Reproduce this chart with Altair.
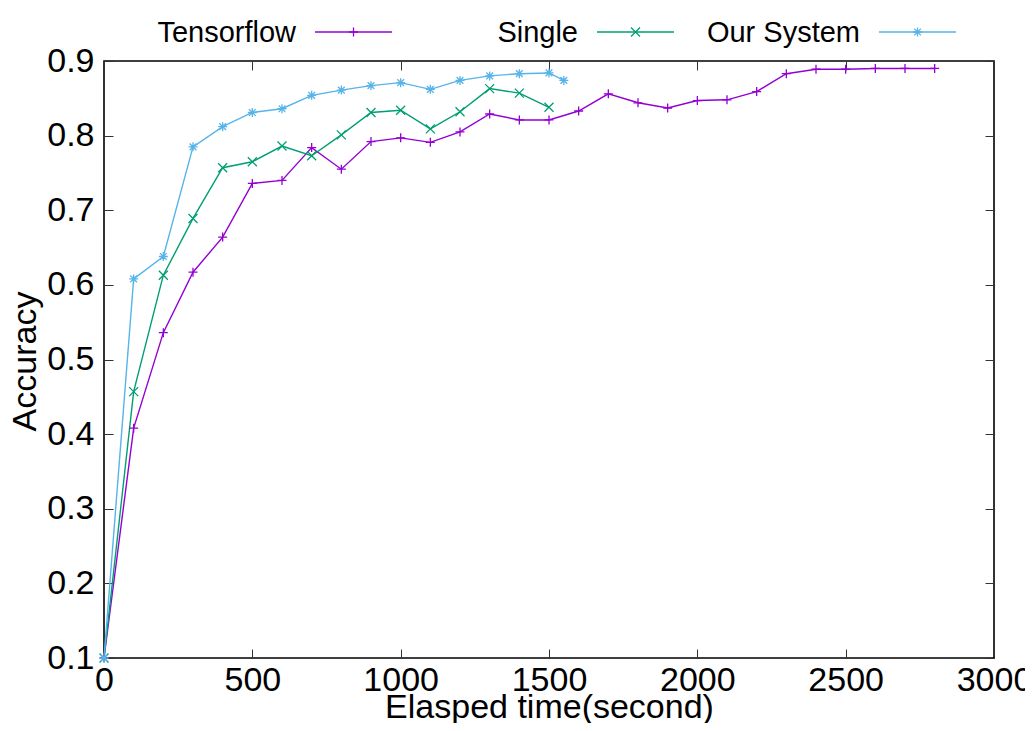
import altair as alt
import pandas as pd

# ---------------- data ----------------
names = ["Tensorflow", "Single", "Our System"]
colors = ["#9400d3", "#009e73", "#56b4e9"]

tf_time = [0, 100, 200, 300, 400, 500, 600, 700, 800, 900, 1000, 1100, 1200, 1300,
           1400, 1500, 1600, 1700, 1800, 1900, 2000, 2100, 2200, 2300, 2400, 2500,
           2600, 2700, 2800]
tf_acc = [0.100, 0.408, 0.536, 0.617, 0.664, 0.736, 0.740, 0.784, 0.755, 0.792,
          0.797, 0.791, 0.805, 0.829, 0.821, 0.821, 0.833, 0.856, 0.844, 0.837,
          0.847, 0.848, 0.859, 0.883, 0.889, 0.889, 0.890, 0.890, 0.890]

single_time = [0, 100, 200, 300, 400, 500, 600, 700, 800, 900, 1000, 1100, 1200,
               1300, 1400, 1500]
single_acc = [0.100, 0.457, 0.613, 0.689, 0.757, 0.765, 0.786, 0.773, 0.801, 0.831,
              0.834, 0.809, 0.832, 0.863, 0.857, 0.838]

ours_time = [0, 100, 200, 300, 400, 500, 600, 700, 800, 900, 1000, 1100, 1200,
             1300, 1400, 1500, 1550]
ours_acc = [0.100, 0.608, 0.638, 0.785, 0.812, 0.831, 0.836, 0.854, 0.861, 0.867,
            0.871, 0.862, 0.874, 0.880, 0.883, 0.884, 0.874]

x_ticks = [0, 500, 1000, 1500, 2000, 2500, 3000]
y_ticks = [0.1, 0.2, 0.3, 0.4, 0.5, 0.6, 0.7, 0.8, 0.9]

# marker shapes: plus, cross, star (gnuplot pt 1, 2, 3)
paths = [
    "M-1,0L1,0M0,-1L0,1",
    "M-1,-1L1,1M-1,1L1,-1",
    "M-1,0L1,0M0,-1L0,1M-0.75,-0.75L0.75,0.75M-0.75,0.75L0.75,-0.75",
]

rows = []
for name, ts, accs in [(names[0], tf_time, tf_acc),
                       (names[1], single_time, single_acc),
                       (names[2], ours_time, ours_acc)]:
    for t, a in zip(ts, accs):
        rows.append({"series": name, "t": t, "acc": a})
df = pd.DataFrame(rows)

# ---------------- layout ----------------
FONT = "Liberation Sans"
W, H = 890, 597
TICK = 9
TICK_COLOR = "#333333"

xs = alt.Scale(domain=[0, 3000], nice=False, zero=False)
ys = alt.Scale(domain=[0.1, 0.9], nice=False, zero=False)
color = alt.Color("series:N", scale=alt.Scale(domain=names, range=colors), legend=None)
shape = alt.Shape("series:N", scale=alt.Scale(domain=names, range=paths), legend=None)


def tick_axis(orient, offset, values):
    return alt.Axis(orient=orient, offset=offset, values=values, labels=False,
                    domain=False, grid=False, ticks=True, tickSize=TICK,
                    tickColor=TICK_COLOR, tickWidth=1, title=None)


base = alt.Chart(df)

lines = base.mark_line(strokeWidth=1.4).encode(
    x=alt.X("t:Q", scale=xs, axis=alt.Axis(
        orient="bottom", values=x_ticks, format="d", ticks=False, domain=False,
        grid=False, labelFont=FONT, labelFontSize=34, labelColor="black",
        labelPadding=5, labelFlush=False, labelOverlap=False,
        title="Elasped time(second)", titleFont=FONT, titleFontSize=34,
        titleFontWeight="normal", titleColor="black", titleY=59,
        titleBaseline="alphabetic")),
    y=alt.Y("acc:Q", scale=ys, axis=alt.Axis(
        orient="left", values=y_ticks, format=".1f", ticks=False, domain=False,
        grid=False, labelFont=FONT, labelFontSize=34, labelColor="black",
        labelPadding=10, labelFlush=False, labelOverlap=False,
        title="Accuracy", titleFont=FONT, titleFontSize=34,
        titleFontWeight="normal", titleColor="black", titleX=-69, titleY=300,
        titleAngle=270, titleAlign="center", titleBaseline="alphabetic")),
    color=color,
)

points = base.mark_point(filled=False, size=81, strokeWidth=1.3, opacity=1).encode(
    x=alt.X("t:Q", scale=xs, axis=tick_axis("top", -H, x_ticks)),
    y=alt.Y("acc:Q", scale=ys, axis=tick_axis("right", -W, y_ticks)),
    color=color,
    shape=shape,
)

mirror = base.mark_point(opacity=0).encode(
    x=alt.X("t:Q", scale=xs, axis=tick_axis("bottom", -H, x_ticks)),
    y=alt.Y("acc:Q", scale=ys, axis=tick_axis("left", -W, y_ticks)),
)

# ---------------- key (gnuplot style, above the plot) ----------------
KEY_TEXT_END = 192
KEY_PITCH = 282
KEY_GAP = 19
KEY_LEN = 77
KEY_Y = -29

legend_layers = []
for i, name in enumerate(names):
    tx = KEY_TEXT_END + i * KEY_PITCH
    x1 = tx + KEY_GAP
    x2 = x1 + KEY_LEN
    kd = alt.Chart(pd.DataFrame({"series": [name]}))
    legend_layers.append(kd.mark_text(align="right", baseline="alphabetic", font=FONT,
                                      fontSize=29, color="black").encode(
        x=alt.value(tx), y=alt.value(KEY_Y + 10), text="series:N"))
    legend_layers.append(kd.mark_rule(color=colors[i], strokeWidth=1.4).encode(
        x=alt.value(x1), x2=alt.value(x2), y=alt.value(KEY_Y)))
    legend_layers.append(kd.mark_point(shape=paths[i], size=81, filled=False,
                                       color=colors[i], strokeWidth=1.3, opacity=1).encode(
        x=alt.value((x1 + x2) / 2), y=alt.value(KEY_Y)))

chart = alt.layer(lines, points, mirror, *legend_layers).resolve_axis(
    x="independent", y="independent"
).properties(
    width=W, height=H,
    padding={"left": 96, "top": 53, "right": 31, "bottom": 65},
    autosize=alt.AutoSizeParams(type="none"),
).configure_view(stroke="black", strokeWidth=1.6)

chart.save("out.html", embed_options={"renderer": "svg", "actions": False})
